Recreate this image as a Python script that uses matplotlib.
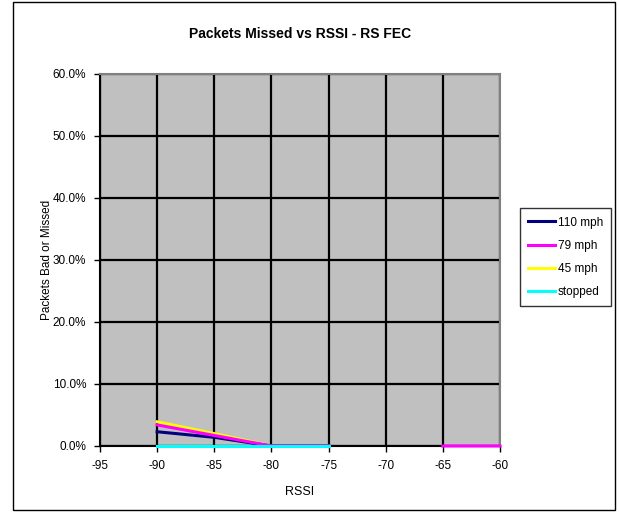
import numpy as np
import matplotlib.pyplot as plt
from matplotlib.patches import Rectangle
from matplotlib.ticker import PercentFormatter

plt.rcParams['font.family'] = ['Liberation Sans', 'DejaVu Sans']
plt.rcParams['axes.unicode_minus'] = False

# RSSI points
rssi = [-90, -85, -80, -75, -70, -65, -60]
nan = np.nan
mph110 = [2.3, 1.4, 0.0, 0.0, nan, nan, nan]
mph79 = [3.4, 1.7, 0.0, 0.0, nan, 0.0, 0.0]
mph45 = [3.9, 2.0, 0.0, 0.0, nan, nan, nan]
stopped = [0.0, 0.0, 0.0, 0.0, nan, nan, nan]

series = [("110 mph", mph110, "#000080", 2),
          ("79 mph", mph79, "#FF00FF", 3),
          ("45 mph", mph45, "#FFFF00", 1),
          ("stopped", stopped, "#00FFFF", 4)]

fig = plt.figure(figsize=(6.19, 5.12), dpi=100)
fig.patch.set_facecolor('white')
# chart area border
fig.add_artist(Rectangle((13 / 619, 0.004), 602 / 619, 0.992, transform=fig.transFigure,
                         fill=False, ec='black', lw=1))

ax = fig.add_axes([100 / 619, 66 / 512, 400 / 619, 372 / 512])
ax.set_facecolor('#C0C0C0')

for label, vals, color, z in series:
    ax.plot(rssi, vals, color=color, lw=2.2, label=label, zorder=z + 2, clip_on=False)

ax.set_xlim(-95, -60)
ax.set_ylim(0, 60)
ax.set_xticks(np.arange(-95, -59, 5))
ax.set_yticks(np.arange(0, 61, 10))
ax.yaxis.set_major_formatter(PercentFormatter(decimals=1))
ax.grid(True, color='black', lw=1.6)
ax.set_axisbelow(True)

for s in ['top', 'right']:
    ax.spines[s].set_color('#808080')
    ax.spines[s].set_linewidth(1.5)
for s in ['left', 'bottom']:
    ax.spines[s].set_color('black')
    ax.spines[s].set_linewidth(1.5)

ax.tick_params(direction='out', length=4, width=1, labelsize=8.5, pad=6)
ax.set_xlabel("RSSI", fontsize=9, labelpad=10)
ax.set_ylabel("Packets Bad or Missed", fontsize=8.5, labelpad=0)
ax.set_title("Packets Missed vs RSSI - RS FEC", fontsize=10, fontweight='bold', pad=26)

leg = ax.legend(loc='center left', bbox_to_anchor=(1.05, 0.507), fontsize=8.5,
                frameon=True, fancybox=False, edgecolor='black', handlelength=2.3,
                handletextpad=0.2, labelspacing=0.95, borderpad=0.7, borderaxespad=0)
leg.get_frame().set_linewidth(1)

fig.savefig("out.png", dpi=100)
